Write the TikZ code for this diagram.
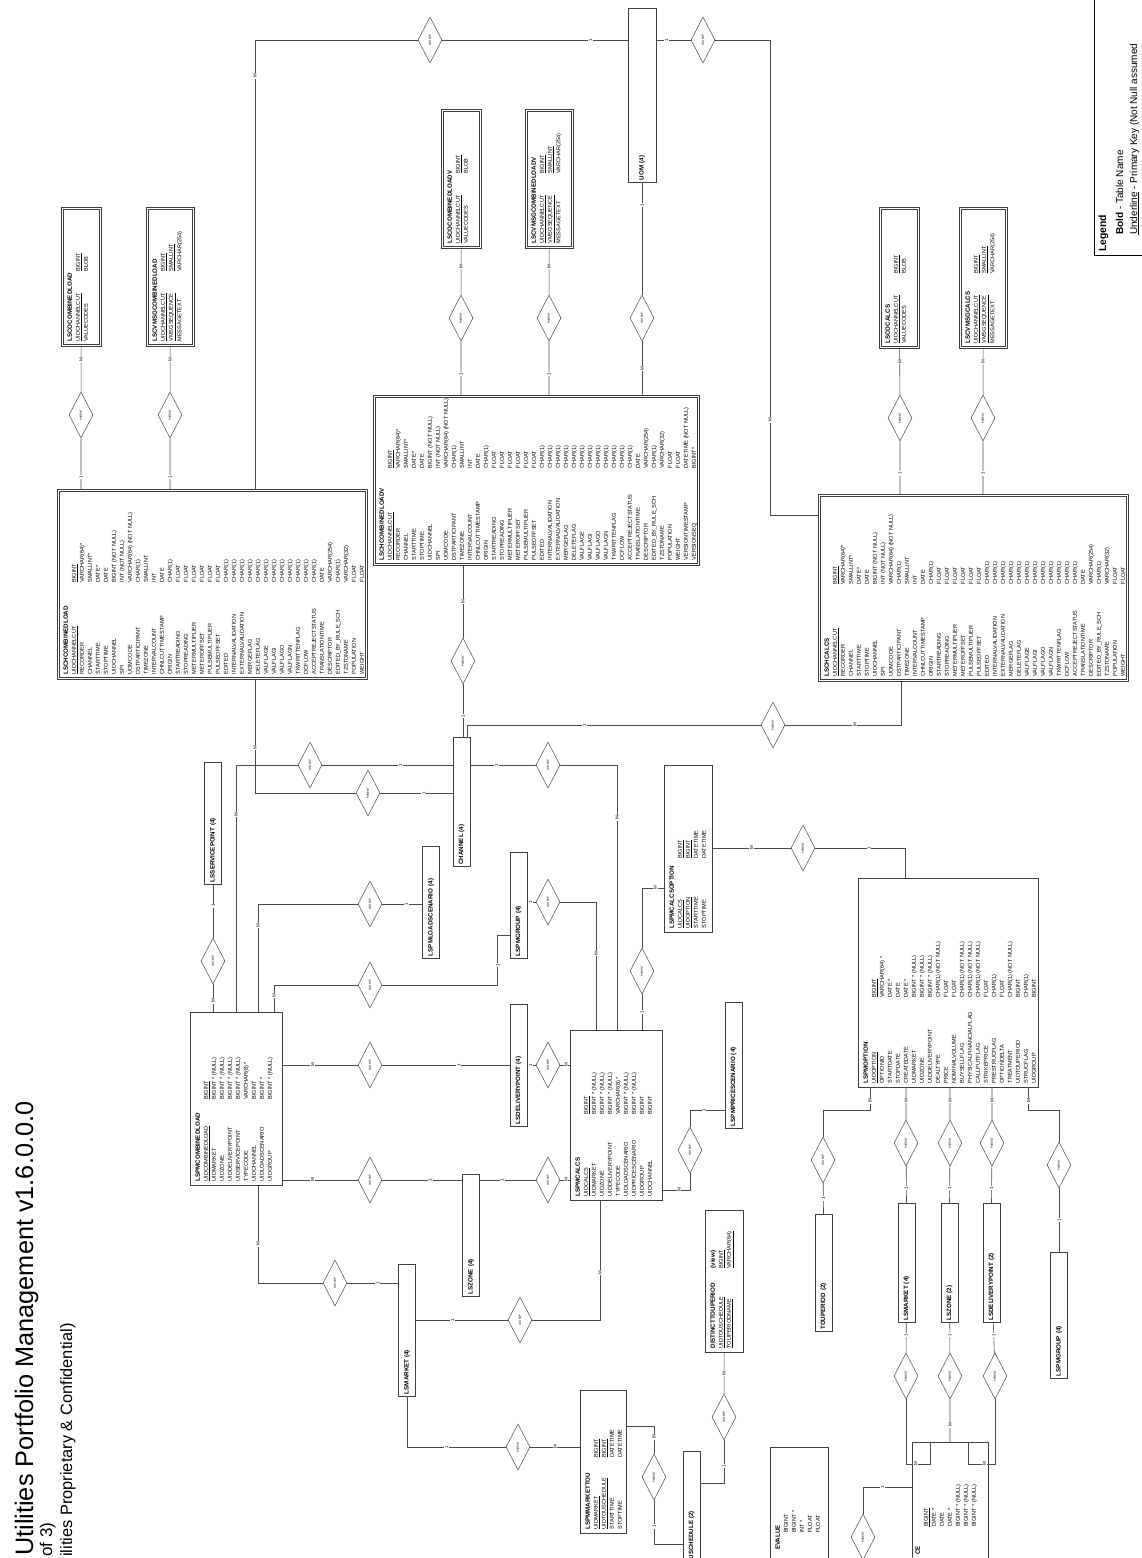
\documentclass[tikz,border=0pt]{standalone}
\usepackage{fontspec}
\setmainfont{Liberation Sans}
\usetikzlibrary{shapes.geometric,positioning,calc}
\newcommand{\pk}[1]{\underline{#1}}
\newcommand{\hd}[1]{\textbf{\fontsize{6.2}{8}\selectfont #1}}
% shared columns of the channel-cut tables
\newcommand{\chrows}{%
\pk{UIDCHANNELCUT} & \pk{BIGINT}\\
RECORDER & VARCHAR(64)*\\
CHANNEL & SMALLINT*\\
STARTTIME & DATE*\\
STOPTIME & DATE\\
UIDCHANNEL & BIGINT (NOT NULL)\\
SPI & INT (NOT NULL)\\
UOMCODE & VARCHAR(64) (NOT NULL)\\
DSTPARTICIPANT & CHAR(1)\\
TIMEZONE & SMALLINT\\
INTERVALCOUNT & INT\\
CHNLCUTTIMESTAMP & DATE\\
ORIGIN & CHAR(1)\\
STARTREADING & FLOAT\\
STOPREADING & FLOAT\\
METERMULTIPLIER & FLOAT\\
METEROFFSET & FLOAT\\
PULSEMULTIPLIER & FLOAT\\
PULSEOFFSET & FLOAT\\
EDITED & CHAR(1)\\
INTERNALVALIDATION & CHAR(1)\\
EXTERNALVALIDATION & CHAR(1)\\
MERGEFLAG & CHAR(1)\\
DELETEFLAG & CHAR(1)\\
VALFLAGE & CHAR(1)\\
VALFLAGI & CHAR(1)\\
VALFLAGO & CHAR(1)\\
VALFLAGN & CHAR(1)\\
TKWRITTENFLAG & CHAR(1)\\
DCFLOW & CHAR(1)\\
ACCEPTREJECTSTATUS & CHAR(1)\\
TRANSLATIONTIME & DATE\\
DESCRIPTOR & VARCHAR(254)\\
EDITED\_BY\_RULE\_SCH & CHAR(1)\\
TZSTDNAME & VARCHAR(32)\\
POPULATION & FLOAT\\
WEIGHT & FLOAT}
\begin{document}
\begin{tikzpicture}[x=1pt,y=-1pt,
    tbl/.style={draw=black!75, line width=0.6pt, inner sep=0pt, anchor=north west},
    chtbl/.style={tbl, double=white, double distance=1.3pt},
    tbltext/.style={rotate=90, anchor=north west, inner sep=0pt, font=\fontsize{5.6}{8}\selectfont},
    ref/.style={draw=black!75, line width=0.6pt, rotate=90, inner sep=2pt, align=left,
                text width=#1, minimum height=17pt, font=\fontsize{6.2}{7}\selectfont\bfseries},
    rel/.style={diamond, draw=black!70, fill=white, line width=0.5pt, minimum width=46pt,
                minimum height=24pt, inner sep=0pt, rotate=90, font=\fontsize{2.8}{3}\selectfont},
    link/.style={draw=black!70, line width=0.6pt},
    card/.style={fill=white, inner sep=0.8pt, rotate=90, font=\fontsize{4.5}{5}\selectfont},
  ]
    \useasboundingbox (0,0) rectangle (1142,1558);

    % title and legend
    \node[rotate=90, anchor=base west, inner sep=0pt, font=\fontsize{25.3}{30}\selectfont] (title) at (33,1556) {Utilities Portfolio Management v1.6.0.0.0};
    \node[rotate=90, anchor=base west, inner sep=0pt, font=\fontsize{17}{20}\selectfont] (page) at (52,1557) {of 3)};
    \node[rotate=90, anchor=base west, inner sep=0pt, font=\fontsize{16.4}{20}\selectfont] (conf) at (72,1557) {ilities Proprietary \& Confidential)};
    \draw[line width=0.7pt] (1150,255) -| (1094,-5);
    \node[rotate=90, anchor=base west, inner sep=0pt, font=\fontsize{10.4}{12}\selectfont\bfseries] (legend) at (1106,252) {Legend};
    \node[rotate=90, anchor=base west, inner sep=0pt, font=\fontsize{10}{12}\selectfont] (lgbold) at (1123,235) {\textbf{Bold} - Table Name};
    \node[rotate=90, anchor=base west, inner sep=0pt, font=\fontsize{10}{12}\selectfont] (lgpk) at (1137,235) {\underline{Underline} - Primary Key (Not Null assumed};

    % channel-cut tables
    \node[chtbl, minimum width=308pt, minimum height=188pt] (chload) at (58,490) {};
    \node[tbltext] at ($(chload.south west)+(4,-4)$) {\begin{tabular}{@{}p{92pt}@{}l@{}}\hd{LSCHCOMBINEDLOAD}\\ \chrows\end{tabular}};
    \node[chtbl, minimum width=324pt, minimum height=168pt] (chlv) at (374,396) {};
    \node[tbltext] at ($(chlv.south west)+(4,-4)$) {\begin{tabular}{@{}p{92pt}@{}l@{}}\hd{LSCHCOMBINEDLOADV}\\ \chrows\\ VERSIONTIMESTAMP & DATETIME (NOT NULL)\\ VERSIONSEQ & BIGINT*\end{tabular}};
    \node[chtbl, minimum width=308pt, minimum height=185pt] (chcalcs) at (819,495) {};
    \node[tbltext] at ($(chcalcs.south west)+(4,-4)$) {\begin{tabular}{@{}p{92pt}@{}l@{}}\hd{LSCHCALCS}\\ \chrows\end{tabular}};

    \node[chtbl, minimum width=38pt, minimum height=137pt] (coload) at (62,208) {};
    \node[tbltext] at ($(coload.south west)+(4,-4)$) {\begin{tabular}{@{}p{70pt}@{}l@{}}\hd{LSCOCOMBINEDLOAD}\\ \pk{UIDCHANNELCUT} & \pk{BIGINT}\\ VALUECODES & BLOB\end{tabular}};
    \node[chtbl, minimum width=46pt, minimum height=137pt] (cvload) at (147,208) {};
    \node[tbltext] at ($(cvload.south west)+(4,-4)$) {\begin{tabular}{@{}p{70pt}@{}l@{}}\hd{LSCVMSGCOMBINEDLOAD}\\ \pk{UIDCHANNELCUT} & \pk{BIGINT}\\ \pk{VMSGSEQUENCE} & \pk{SMALLINT}\\ MESSAGETEXT & VARCHAR(254)\end{tabular}};
    \node[chtbl, minimum width=38pt, minimum height=137pt] (colv) at (442,110) {};
    \node[tbltext] at ($(colv.south west)+(4,-4)$) {\begin{tabular}{@{}p{70pt}@{}l@{}}\hd{LSCOCOMBINEDLOADV}\\ \pk{UIDCHANNELCUT} & \pk{BIGINT}\\ VALUECODES & BLOB\end{tabular}};
    \node[chtbl, minimum width=46pt, minimum height=137pt] (cvlv) at (526,110) {};
    \node[tbltext] at ($(cvlv.south west)+(4,-4)$) {\begin{tabular}{@{}p{70pt}@{}l@{}}\hd{LSCVMSGCOMBINEDLOADV}\\ \pk{UIDCHANNELCUT} & \pk{BIGINT}\\ \pk{VMSGSEQUENCE} & \pk{SMALLINT}\\ MESSAGETEXT & VARCHAR(254)\end{tabular}};
    \node[chtbl, minimum width=38pt, minimum height=139pt] (cocalcs) at (880,208) {};
    \node[tbltext] at ($(cocalcs.south west)+(4,-4)$) {\begin{tabular}{@{}p{70pt}@{}l@{}}\hd{LSCOCALCS}\\ \pk{UIDCHANNELCUT} & \pk{BIGINT}\\ VALUECODES & BLOB\end{tabular}};
    \node[chtbl, minimum width=46pt, minimum height=139pt] (cvcalcs) at (960,208) {};
    \node[tbltext] at ($(cvcalcs.south west)+(4,-4)$) {\begin{tabular}{@{}p{70pt}@{}l@{}}\hd{LSCVMSGCALCS}\\ \pk{UIDCHANNELCUT} & \pk{BIGINT}\\ \pk{VMSGSEQUENCE} & \pk{SMALLINT}\\ MESSAGETEXT & VARCHAR(254)\end{tabular}};

    % portfolio tables
    \node[tbl, minimum width=92pt, minimum height=173pt] (pmload) at (190,1012) {};
    \node[tbltext] at ($(pmload.south west)+(4,-4)$) {\begin{tabular}{@{}p{82pt}@{}l@{}}\hd{LSPMCOMBINEDLOAD}\\ \pk{UIDCOMBINEDLOAD} & \pk{BIGINT}\\ UIDMARKET & BIGINT * (NULL)\\ UIDZONE & BIGINT * (NULL)\\ UIDDELIVERYPOINT & BIGINT * (NULL)\\ UIDSERVICEPOINT & BIGINT * (NULL)\\ TYPECODE & VARCHAR(8) *\\ UIDCHANNEL & BIGINT\\ UIDLOADSCENARIO & BIGINT *\\ UIDGROUP & BIGINT * (NULL)\end{tabular}};
    \node[tbl, minimum width=92pt, minimum height=170pt] (pmcalcs) at (570,1030) {};
    \node[tbltext] at ($(pmcalcs.south west)+(4,-4)$) {\begin{tabular}{@{}p{82pt}@{}l@{}}\hd{LSPMCALCS}\\ \pk{UIDCALCS} & \pk{BIGINT}\\ UIDMARKET & BIGINT * (NULL)\\ UIDZONE & BIGINT * (NULL)\\ UIDDELIVERYPOINT & BIGINT * (NULL)\\ TYPECODE & VARCHAR(8) *\\ UIDLOADSCENARIO & BIGINT * (NULL)\\ UIDPRICESCENARIO & BIGINT * (NULL)\\ UIDGROUP & BIGINT\\ UIDCHANNEL & BIGINT\end{tabular}};
    \node[tbl, minimum width=48pt, minimum height=167pt] (pmcopt) at (664,765) {};
    \node[tbltext] at ($(pmcopt.south west)+(4,-4)$) {\begin{tabular}{@{}p{70pt}@{}l@{}}\hd{LSPMCALCSOPTION}\\ \pk{UIDCALCS} & \pk{BIGINT}\\ \pk{UIDOPTION} & \pk{BIGINT}\\ STARTTIME & DATETIME\\ STOPTIME & DATETIME\end{tabular}};
    \node[tbl, minimum width=180pt, minimum height=209pt] (pmopt) at (858,878) {};
    \node[tbltext] at ($(pmopt.south west)+(4,-4)$) {\begin{tabular}{@{}p{86pt}@{}l@{}}\hd{LSPMOPTION}\\ \pk{UIDOPTION} & \pk{BIGINT}\\ OPTIONID & VARCHAR(64) *\\ STARTDATE & DATE *\\ STOPDATE & DATE\\ CREATEDATE & DATE *\\ UIDMARKET & BIGINT * (NULL)\\ UIDZONE & BIGINT * (NULL)\\ UIDDELIVERYPOINT & BIGINT * (NULL)\\ DEALTYPE & CHAR(1) (NOT NULL)\\ PRICE & FLOAT\\ NOMINALVOLUME & FLOAT\\ BUYSELLFLAG & CHAR(1) (NOT NULL)\\ PHYSICALFINANCIALFLAG & CHAR(1) (NOT NULL)\\ CALLPUTFLAG & CHAR(1) (NOT NULL)\\ STRIKEPRICE & FLOAT\\ PRESTRUCFLAG & CHAR(1)\\ OPTIONDELTA & FLOAT\\ TREATMENT & CHAR(1) (NOT NULL)\\ UIDTOUPERIOD & BIGINT\\ STRUCFLAG & CHAR(1)\\ UIDGROUP & BIGINT\end{tabular}};
    \node[tbl, minimum width=46pt, minimum height=143pt] (mkttou) at (580,1390) {};
    \node[tbltext] at ($(mkttou.south west)+(4,-4)$) {\begin{tabular}{@{}p{72pt}@{}l@{}}\hd{LSPMMARKETTOU}\\ \pk{UIDMARKET} & \pk{BIGINT}\\ \pk{UIDTOUSCHEDULE} & \pk{BIGINT}\\ STARTTIME & DATETIME\\ STOPTIME & DATETIME\end{tabular}};
    \node[tbl, minimum width=38pt, minimum height=142pt] (distou) at (705,1210) {};
    \node[tbltext] at ($(distou.south west)+(4,-4)$) {\begin{tabular}{@{}p{80pt}@{}l@{}}\hd{DISTINCTTOUPERIOD} & \hd{(view)}\\ \pk{UIDTOUSCHEDULE} & \pk{BIGINT}\\ \pk{TOUPERIODNAME} & \pk{VARCHAR(64)}\end{tabular}};
    \node[tbl, minimum width=58pt, minimum height=130pt] (touval) at (770,1447) {};
    \node[tbltext] at (774,1550) {\begin{tabular}{@{}p{17pt}@{}l@{}}\hd{EVALUE}\\ & BIGINT\\ & BIGINT *\\ & INT *\\ & FLOAT\\ & FLOAT\end{tabular}};
    \node[tbl, minimum width=76pt, minimum height=130pt] (price) at (912,1442) {};
    \node[tbltext] at (914,1555) {\begin{tabular}{@{}p{28pt}@{}l@{}}\hd{CE}\\ & \pk{BIGINT}\\ & DATE *\\ & DATE\\ & DATE *\\ & BIGINT * (NULL)\\ & BIGINT * (NULL)\\ & BIGINT * (NULL)\end{tabular}};

    % lookup tables
    \node[ref=170pt, minimum height=28pt] (uom) at (642,95) {UOM (4)};
    \node[ref=125pt] (channel) at (461.5,802) {CHANNEL (4)};
    \node[ref=118pt] (svcpt) at (213,823) {LSSERVICEPOINT (4)};
    \node[ref=108pt] (ldscen) at (431,902) {LSPMLOADSCENARIO (4)};
    \node[ref=102pt] (grp) at (518.5,905) {LSPMGROUP (4)};
    \node[ref=118pt] (dlvpt) at (518.5,1065) {LSDELIVERYPOINT (4)};
    \node[ref=118pt] (zone) at (471,1235) {LSZONE (4)};
    \node[ref=128pt] (market) at (407,1330) {LSMARKET (4)};
    \node[ref=122pt] (prscen) at (733.5,1065) {LSPMPRICESCENARIO (4)};
    \node[ref=113pt] (touper) at (823.5,1273) {TOUPERIOD (2)};
    \node[ref=115pt] (market2) at (906.5,1263) {LSMARKET (4)};
    \node[ref=115pt] (zone2) at (949.5,1263) {LSZONE (2)};
    \node[ref=115pt] (dlvpt2) at (991.5,1263) {LSDELIVERYPOINT (2)};
    \node[ref=122pt] (grp2) at (1059,1315) {LSPMGROUP (4)};
    \node[ref=122pt, anchor=west] (tousch) at (691.5,1578) {LSTOUSCHEDULE (2)};

    % relationships of the channel-cut tables
    \node[rel] (p1) at (81,415) {PARENT};
    \draw[link] (coload) -- node[card,pos=0.3]{M} (p1) -- node[card,pos=0.75]{1} (p1 |- chload.north);
    \node[rel] (p2) at (170,415) {PARENT};
    \draw[link] (cvload) -- node[card,pos=0.3]{M} (p2) -- node[card,pos=0.75]{1} (p2 |- chload.north);
    \node[rel] (p3) at (461,318) {PARENT};
    \draw[link] (colv) -- node[card,pos=0.4]{M} (p3) -- node[card,pos=0.6]{1} (p3 |- chlv.north);
    \node[rel] (p4) at (549,318) {PARENT};
    \draw[link] (cvlv) -- node[card,pos=0.4]{M} (p4) -- node[card,pos=0.6]{1} (p4 |- chlv.north);
    \node[rel] (p5) at (900,418) {PARENT};
    \draw[link] (cocalcs) -- node[card,pos=0.3]{M} (p5) -- node[card,pos=0.6]{1} (p5 |- chcalcs.north);
    \node[rel] (p6) at (983,418) {PARENT};
    \draw[link] (cvcalcs) -- node[card,pos=0.3]{M} (p6) -- node[card,pos=0.6]{1} (p6 |- chcalcs.north);
    \node[rel] (l1) at (430,40) {LOOKUP};
    \draw[link] ($(chload.north west)+(197,0)$) |- node[card,pos=0.46]{M} (l1);
    \draw[link] (l1) -- node[card,pos=0.8]{1} (uom.north |- l1);
    \node[rel] (l2) at (703,40) {LOOKUP};
    \draw[link] (uom.south |- l2) -- node[card,pos=0.3]{1} (l2);
    \draw[link] (l2) -| node[card,pos=0.9]{M} ($(chcalcs.north west)+(-49,20)$) -- ($(chcalcs.north west)+(0,20)$);
    \node[rel] (l3) at (642,318) {LOOKUP};
    \draw[link] (uom) -- node[card,pos=0.2]{1} (l3) -- node[card,pos=0.5]{M} (l3 |- chlv.north);
    \node[rel] (p7) at (463,661) {PARENT};
    \draw[link] (p7 |- chlv.south) -- node[card,pos=0.5]{M} (p7) -- node[card,pos=0.6]{1} (p7 |- channel.east);
    \node[rel] (p8) at (368,793) {PARENT};
    \draw[link] ($(chload.south west)+(197,0)$) |- node[card,pos=0.3]{M} (p8);
    \draw[link] (p8) -- node[card,pos=0.6]{1} (channel.north |- p8);
    \node[rel] (p9) at (773,725) {PARENT};
    \draw[link] ($(chcalcs.south west)+(82,0)$) |- node[card,pos=0.7]{M} (p9);
    \draw[link] (p9) -| node[card,pos=0.3]{1} (channel.east -| 467,0);

    % relationships of the portfolio tables
    \node[rel] (l4) at (213,961) {LOOKUP};
    \draw[link] (svcpt) -- node[card,pos=0.4]{1} (l4) -- node[card,pos=0.6]{M} (l4 |- pmload.north);
    \node[rel] (l5) at (310,765) {LOOKUP};
    \draw[link] ($(pmload.north west)+(46,0)$) |- node[card,pos=0.4]{M} (l5);
    \draw[link] (l5) -- node[card,pos=0.6]{1} (channel.north |- l5);
    \node[rel] (l6) at (548,765) {LOOKUP};
    \draw[link] ($(pmcalcs.north west)+(47,0)$) |- node[card,pos=0.4]{M} (l6);
    \draw[link] (l6) -- node[card,pos=0.6]{1} (channel.south |- l6);
    \node[rel] (l7) at (370,904) {LOOKUP};
    \draw[link] ($(pmload.north west)+(68,0)$) |- node[card,pos=0.4]{M} (l7);
    \draw[link] (l7) -- node[card,pos=0.6]{1} (ldscen.north |- l7);
    \node[rel] (l8) at (548,902) {LOOKUP};
    \draw[link] ($(pmcalcs.north west)+(26,0)$) |- node[card,pos=0.3]{M} (l8);
    \draw[link] (l8) -- node[card,pos=0.6]{1} (grp.south |- l8);
    \node[rel] (l12) at (370,985) {LOOKUP};
    \draw[link] ($(pmload.north west)+(84,0)$) |- node[card,pos=0.3]{M} (l12);
    \draw[link] (l12) -| node[card,pos=0.7]{1} ($(grp.north |- 0,935)+(-12,0)$) -- (grp.north |- 0,935);
    \node[rel] (l13) at (370,1065) {LOOKUP};
    \draw[link] (pmload.east |- l13) -- node[card,pos=0.4]{M} (l13) -- node[card,pos=0.6]{1} (dlvpt.north |- l13);
    \node[rel] (l14) at (548,1065) {LOOKUP};
    \draw[link] (pmcalcs.west |- l14) -- node[card,pos=0.4]{M} (l14) -- node[card,pos=0.6]{1} (dlvpt.south |- l14);
    \node[rel] (l15) at (370,1180) {LOOKUP};
    \draw[link] (pmload.east |- l15) -- node[card,pos=0.4]{M} (l15) -- node[card,pos=0.6]{1} (zone.north |- l15);
    \node[rel] (l16) at (548,1180) {LOOKUP};
    \draw[link] (pmcalcs.west |- l16) -- node[card,pos=0.4]{M} (l16) -- node[card,pos=0.6]{1} (zone.south |- l16);
    \node[rel] (l17) at (335,1283) {LOOKUP};
    \draw[link] ($(pmload.south west)+(68,0)$) |- node[card,pos=0.3]{M} (l17);
    \draw[link] (l17) -- node[card,pos=0.6]{1} (market.north |- l17);
    \node[rel] (l18) at (520,1320) {LOOKUP};
    \draw[link] ($(pmcalcs.south west)+(30,0)$) |- node[card,pos=0.3]{M} (l18);
    \draw[link] (l18) -- node[card,pos=0.6]{1} (market.south |- l18);
    \node[rel] (p10) at (642,971) {PARENT};
    \draw[link] (p10 |- pmcalcs.north) -- node[card,pos=0.5]{1} (p10);
    \draw[link] (p10) |- node[card,pos=0.8]{M} (pmcopt.west |- 0,888);
    \node[rel] (p11) at (803,848) {PARENT};
    \draw[link] (pmcopt.east |- p11) -- node[card,pos=0.5]{M} (p11);
    \draw[link] (p11) -| node[card,pos=0.3]{1} (pmopt.north -| 905,0);
    \node[rel] (l11) at (690,1150) {LOOKUP};
    \draw[link] (pmcalcs.south east |- 0,1190) -| node[card,pos=0.3]{M} (l11);
    \draw[link] (l11) |- node[card,pos=0.7]{1} (prscen.north |- 0,1110);

    % relationships of the option table
    \node[rel] (l10) at (823,1160) {LOOKUP};
    \draw[link] ($(pmopt.south west)+(12,0)$) |- node[card,pos=0.3]{M} (l10 |- 0,1110) -- (l10);
    \draw[link] (l10) -- node[card,pos=0.5]{1} (touper.east);
    \node[rel] (p17) at (906,1143) {PARENT};
    \draw[link] (p17 |- pmopt.south) -- node[card,pos=0.4]{M} (p17) -- node[card,pos=0.6]{1} (market2.east);
    \node[rel] (p18) at (950,1143) {PARENT};
    \draw[link] (p18 |- pmopt.south) -- node[card,pos=0.4]{M} (p18) -- node[card,pos=0.6]{1} (zone2.east);
    \node[rel] (p19) at (992,1143) {PARENT};
    \draw[link] (p19 |- pmopt.south) -- node[card,pos=0.4]{M} (p19) -- node[card,pos=0.6]{1} (dlvpt2.east);
    \node[rel] (p20) at (1059,1165) {PARENT};
    \draw[link] ($(pmopt.south east)+(-10,0)$) |- node[card,pos=0.3]{M} (p20 |- 0,1110) -- (p20);
    \draw[link] (p20) -- node[card,pos=0.5]{1} (grp2.east);

    % time of use
    \node[rel] (p21) at (518,1447) {PARENT};
    \draw[link] (market.west) |- node[card,pos=0.7]{1} (p21);
    \draw[link] (p21) -- node[card,pos=0.5]{M} (mkttou.west |- p21);
    \node[rel] (l9) at (724,1417) {LOOKUP};
    \draw[link] (distou) -- node[card,pos=0.5]{M} (l9);
    \draw[link] (l9) |- node[card,pos=0.3]{1} (tousch.south |- 0,1483);
    \node[rel] (p12) at (654,1477) {PARENT};
    \draw[link] (mkttou.east |- 0,1426) -| node[card,pos=0.7]{M} (p12);
    \draw[link] (p12) |- node[card,pos=0.3]{1} (tousch.north |- 0,1544);
    \node[rel] (p13) at (906,1376) {PARENT};
    \draw[link] (market2) -- node[card,pos=0.4]{1} (p13);
    \draw[link] (p13) |- node[card,pos=0.7]{M} ($(price.north west)+(18,22)$) -- ($(price.north west)+(18,0)$);
    \node[rel] (p14) at (950,1376) {PARENT};
    \draw[link] (zone2) -- node[card,pos=0.4]{1} (p14) -- node[card,pos=0.6]{M} (p14 |- price.north);
    \node[rel] (p15) at (995,1376) {PARENT};
    \draw[link] (dlvpt2) -- node[card,pos=0.4]{1} (p15);
    \draw[link] (p15) |- node[card,pos=0.7]{M} ($(price.north west)+(56,22)$) -- ($(price.north west)+(56,0)$);
    \node[rel] (p16) at (863,1537) {PARENT};
    \draw[link] (price.west |- 0,1487) -| node[card,pos=0.3]{1} (p16);
  \end{tikzpicture}
\end{document}
